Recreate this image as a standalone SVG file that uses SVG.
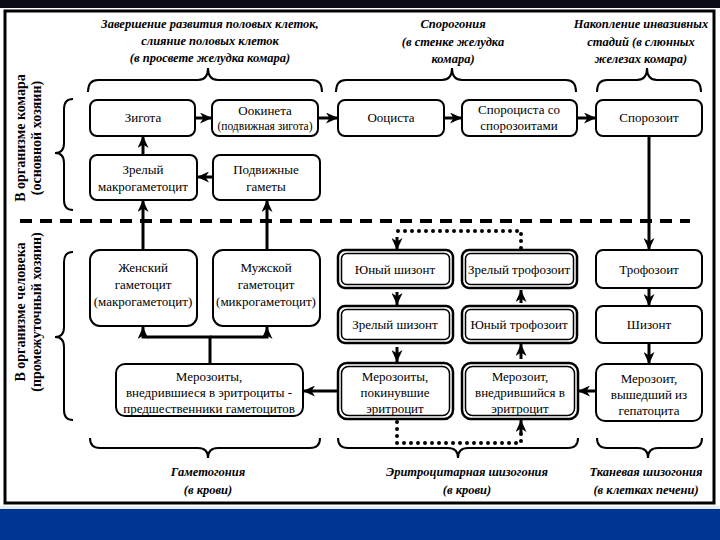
<svg xmlns="http://www.w3.org/2000/svg" width="720" height="540" viewBox="0 0 720 540" font-family="'Liberation Serif', 'DejaVu Serif', serif">
<defs>
<style>
.box{fill:#fff;stroke:#000;stroke-width:2}
.dbl{fill:#fff;stroke:#000;stroke-width:2.5}
.inn{fill:none;stroke:#000;stroke-width:1.5}
.t{font-family:'Liberation Serif','DejaVu Serif',serif;font-size:13px;fill:#000;text-anchor:middle}
.ts{font-family:'Liberation Serif','DejaVu Serif',serif;font-size:11.5px;fill:#000;text-anchor:middle}
.h{font-family:'Liberation Serif','DejaVu Serif',serif;font-size:12.5px;font-weight:bold;font-style:italic;fill:#000;text-anchor:middle}
.v{font-family:'Liberation Serif','DejaVu Serif',serif;font-size:14px;font-weight:bold;fill:#000;text-anchor:middle}
.br{fill:none;stroke:#000;stroke-width:2}
.c{fill:none;stroke:#000;stroke-width:3}
.dot{fill:none;stroke:#000;stroke-width:4;stroke-linecap:round;stroke-dasharray:0 7}
</style>
<marker id="ah" markerUnits="userSpaceOnUse" markerWidth="12" markerHeight="11" viewBox="0 0 12 11" refX="12" refY="5.5" orient="auto">
<path d="M0,0 L12,5.5 L0,11 L3.5,5.5 z" fill="#000"/>
</marker>
</defs>
<rect x="0" y="0" width="720" height="540" fill="#fff"/>
<rect x="0" y="0" width="720" height="8" fill="#0b0b18"/>
<rect x="0" y="506" width="720" height="4" fill="#e6eef8"/>
<rect x="0" y="509" width="720" height="31" fill="#003594"/>
<rect x="5" y="11" width="709" height="492" fill="none" stroke="#000" stroke-width="3"/>

<g id="headers">
<text class="h" x="210" y="28">Завершение развития половых клеток,</text>
<text class="h" x="210" y="45">слияние половых клеток</text>
<text class="h" x="210" y="62">(в просвете желудка комара)</text>
<text class="h" x="453" y="28">Спорогония</text>
<text class="h" x="453" y="46">(в стенке желудка</text>
<text class="h" x="453" y="63">комара)</text>
<text class="h" x="641" y="28">Накопление инвазивных</text>
<text class="h" x="641" y="46">стадий (в слюнных</text>
<text class="h" x="641" y="63">железах комара)</text>
<text class="h" x="208" y="476">Гаметогония</text>
<text class="h" x="208" y="494">(в крови)</text>
<text class="h" x="467" y="476">Эритроцитарная шизогония</text>
<text class="h" x="467" y="494">(в крови)</text>
<text class="h" x="646" y="476">Тканевая шизогония</text>
<text class="h" x="646" y="494">(в клетках печени)</text>
<text class="v" transform="translate(25,138) rotate(-90)">В организме комара</text>
<text class="v" transform="translate(41,138) rotate(-90)">(основной хозяин)</text>
<text class="v" transform="translate(25,312) rotate(-90)">В организме человека</text>
<text class="v" transform="translate(41,312) rotate(-90)">(промежуточный хозяин)</text>
</g>

<g id="braces">
<path class="br" d="M88,92 Q88,80 98,80 L198,80 Q208,80 208,68 Q208,80 218,80 L312,80 Q322,80 322,92"/>
<path class="br" d="M336,92 Q336,80 346,80 L442,80 Q452,80 452,68 Q452,80 462,80 L566,80 Q576,80 576,92"/>
<path class="br" d="M597,92 Q597,80 607,80 L637,80 Q647,80 647,68 Q647,80 657,80 L691,80 Q701,80 701,92"/>
<path class="br" d="M90,438 Q90,448 100,448 L198,448 Q208,448 208,458 Q208,448 218,448 L310,448 Q320,448 320,438"/>
<path class="br" d="M338,438 Q338,448 348,448 L448,448 Q458,448 458,458 Q458,448 468,448 L568,448 Q578,448 578,438"/>
<path class="br" d="M597,438 Q597,448 607,448 L638,448 Q648,448 648,458 Q648,448 658,448 L692,448 Q702,448 702,438"/>
<path class="br" d="M73,99 Q64,99 64,109 L64,143 Q64,153 55,153 Q64,153 64,163 L64,200 Q64,210 73,210"/>
<path class="br" d="M73,252 Q64,252 64,262 L64,327 Q64,337 55,337 Q64,337 64,347 L64,410 Q64,420 73,420"/>
</g>

<line x1="20" y1="221" x2="690" y2="221" stroke="#000" stroke-width="4" stroke-dasharray="12 8"/>

<g id="connectors">
<line class="c" x1="195" y1="118" x2="212" y2="118" marker-end="url(#ah)"/>
<line class="c" x1="318" y1="118" x2="338" y2="118" marker-end="url(#ah)"/>
<line class="c" x1="444" y1="118" x2="462" y2="118" marker-end="url(#ah)"/>
<line class="c" x1="577" y1="118" x2="596" y2="118" marker-end="url(#ah)"/>
<line class="c" x1="143" y1="155" x2="143" y2="136" marker-end="url(#ah)"/>
<line class="c" x1="213" y1="177" x2="197" y2="177" marker-end="url(#ah)"/>
<line class="c" x1="143" y1="250" x2="143" y2="200" marker-end="url(#ah)"/>
<line class="c" x1="267" y1="250" x2="267" y2="200" marker-end="url(#ah)"/>
<line class="c" x1="649" y1="136" x2="649" y2="250" marker-end="url(#ah)"/>
<line class="c" x1="649" y1="288" x2="649" y2="306" marker-end="url(#ah)"/>
<line class="c" x1="649" y1="342" x2="649" y2="364" marker-end="url(#ah)"/>
<line class="c" x1="596" y1="391" x2="578" y2="391" marker-end="url(#ah)"/>
<line class="c" x1="338" y1="391" x2="303" y2="391" marker-end="url(#ah)"/>
<path class="c" d="M210,364 L210,337 L143,337 L143,327" marker-end="url(#ah)"/>
<path class="c" d="M210,337 L267,337 L267,327" marker-end="url(#ah)"/>
<line class="c" x1="397" y1="292" x2="397" y2="305" marker-end="url(#ah)"/>
<line class="c" x1="397" y1="347" x2="397" y2="362" marker-end="url(#ah)"/>
<line class="c" x1="521" y1="359" x2="521" y2="344" marker-end="url(#ah)"/>
<line class="c" x1="521" y1="303" x2="521" y2="290" marker-end="url(#ah)"/>
<path class="dot" d="M521,248 L521,231 L397,231"/>
<line class="c" x1="397" y1="237" x2="397" y2="250" marker-end="url(#ah)"/>
<path class="dot" d="M397,422 L397,443 L521,443 L521,432"/>
<line class="c" x1="521" y1="434" x2="521" y2="420" marker-end="url(#ah)"/>
</g>

<g id="n-zigota"><rect class="box" x="90" y="100" width="105" height="36" rx="7"/><text class="t" x="143" y="122">Зигота</text></g>
<g id="n-ookineta"><rect class="box" x="212" y="100" width="106" height="36" rx="7"/><text class="t" x="265" y="115">Оокинета</text><text class="ts" x="265" y="130">(подвижная зигота)</text></g>
<g id="n-oocista"><rect class="box" x="338" y="100" width="106" height="36" rx="7"/><text class="t" x="391" y="122">Ооциста</text></g>
<g id="n-sporocista"><rect class="box" x="462" y="100" width="115" height="36" rx="7"/><text class="t" x="519" y="114">Спороциста со</text><text class="t" x="519" y="130">спорозоитами</text></g>
<g id="n-sporozoit"><rect class="box" x="596" y="100" width="106" height="36" rx="7"/><text class="t" x="649" y="122">Спорозоит</text></g>
<g id="n-makro"><rect class="box" x="90" y="155" width="107" height="45" rx="7"/><text class="t" x="143" y="174">Зрелый</text><text class="t" x="143" y="191">макрогаметоцит</text></g>
<g id="n-gamety"><rect class="box" x="213" y="155" width="107" height="45" rx="7"/><text class="t" x="266" y="174">Подвижные</text><text class="t" x="266" y="191">гаметы</text></g>
<g id="n-female"><rect class="box" x="90" y="250" width="107" height="76" rx="10"/><text class="t" x="143" y="272">Женский</text><text class="t" x="143" y="289">гаметоцит</text><text class="t" x="143" y="306">(макрогаметоцит)</text></g>
<g id="n-male"><rect class="box" x="213" y="250" width="107" height="76" rx="10"/><text class="t" x="266" y="272">Мужской</text><text class="t" x="266" y="289">гаметоцит</text><text class="t" x="266" y="306">(микрогаметоцит)</text></g>
<g id="n-yshiz"><rect class="dbl" x="338" y="250" width="115" height="38" rx="7"/><rect class="inn" x="341.5" y="253.5" width="108" height="31" rx="5"/><text class="t" x="395" y="274">Юный шизонт</text></g>
<g id="n-ztrof"><rect class="dbl" x="462" y="250" width="115" height="38" rx="7"/><rect class="inn" x="465.5" y="253.5" width="108" height="31" rx="5"/><text class="t" x="519" y="274">Зрелый трофозоит</text></g>
<g id="n-trof"><rect class="box" x="596" y="250" width="106" height="38" rx="7"/><text class="t" x="649" y="274">Трофозоит</text></g>
<g id="n-zshiz"><rect class="dbl" x="338" y="306" width="115" height="37" rx="7"/><rect class="inn" x="341.5" y="309.5" width="108" height="30" rx="5"/><text class="t" x="395" y="329">Зрелый шизонт</text></g>
<g id="n-ytrof"><rect class="dbl" x="462" y="306" width="115" height="37" rx="7"/><rect class="inn" x="465.5" y="309.5" width="108" height="30" rx="5"/><text class="t" x="519" y="329">Юный трофозоит</text></g>
<g id="n-shiz"><rect class="box" x="596" y="306" width="106" height="37" rx="7"/><text class="t" x="649" y="329">Шизонт</text></g>
<g id="n-merpred"><rect class="box" x="116" y="364" width="187" height="52" rx="9"/><text class="t" x="209" y="381">Мерозоиты,</text><text class="t" x="209" y="397">внедрившиеся в эритроциты -</text><text class="t" x="209" y="413">предшественники гаметоцитов</text></g>
<g id="n-merpok"><rect class="dbl" x="338" y="363" width="115" height="56" rx="9"/><rect class="inn" x="341.5" y="366.5" width="108" height="49" rx="7"/><text class="t" x="395" y="381">Мерозоиты,</text><text class="t" x="395" y="397">покинувшие</text><text class="t" x="395" y="413">эритроцит</text></g>
<g id="n-mervn"><rect class="dbl" x="462" y="363" width="116" height="56" rx="9"/><rect class="inn" x="465.5" y="366.5" width="109" height="49" rx="7"/><text class="t" x="520" y="381">Мерозоит,</text><text class="t" x="520" y="397">внедрившийся в</text><text class="t" x="520" y="413">эритроцит</text></g>
<g id="n-merhep"><rect class="box" x="596" y="364" width="106" height="57" rx="9"/><text class="t" x="649" y="383">Мерозоит,</text><text class="t" x="649" y="399">вышедший из</text><text class="t" x="649" y="415">гепатоцита</text></g>
</svg>
